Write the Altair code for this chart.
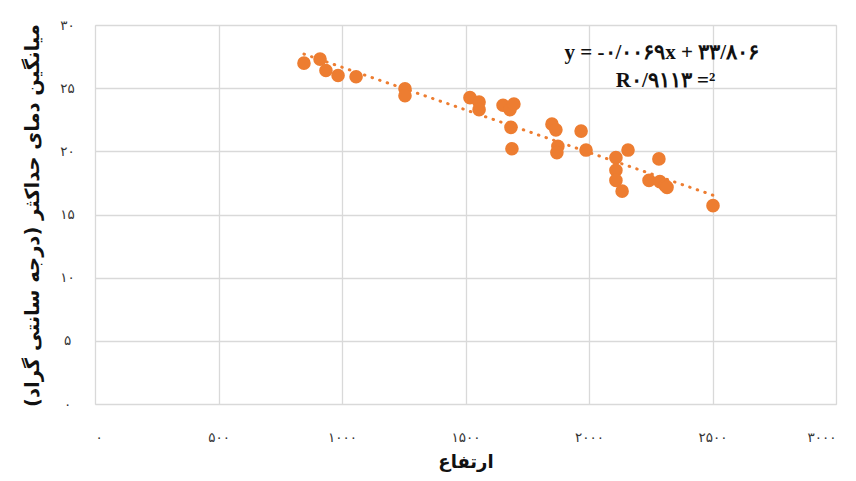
import altair as alt
import pandas as pd

# Data
elevation = [846, 911, 935, 984, 1057, 1255, 1255, 1518, 1555, 1555, 1652, 1680, 1696,
             1684, 1688, 1850, 1866, 1874, 1870, 1968, 1988, 2109, 2109, 2109, 2134,
             2158, 2243, 2283, 2287, 2308, 2316, 2502]
tmax = [26.98, 27.3, 26.4, 26.0, 25.9, 24.95, 24.4, 24.25, 23.9, 23.3, 23.65, 23.3, 23.75,
        21.9, 20.2, 22.15, 21.7, 20.4, 19.9, 21.6, 20.1, 19.5, 18.5, 17.7, 16.85,
        20.1, 17.7, 19.4, 17.6, 17.3, 17.15, 15.7]

x_ticks = [0, 500, 1000, 1500, 2000, 2500, 3000]
y_ticks = [0, 5, 10, 15, 20, 25, 30]

eq_lines = ["y = -۰/۰۰۶۹x + ۳۳/۸۰۶", "R۰/۹۱۱۳ =²"]
eq_x = [2295, 2310]
eq_y = [27.8, 25.6]

x_title = "ارتفاع"
y_title = "میانگین دمای حداکثر (درجه سانتی گراد)"

FA = str.maketrans("0123456789", "۰۱۲۳۴۵۶۷۸۹")


def label_expr(ticks):
    expr = "''"
    for t in reversed(ticks):
        expr = f"datum.value == {t} ? '{str(t).translate(FA)}' : " + expr
    return expr


df = pd.DataFrame({"x": elevation, "y": tmax})
eq_df = pd.DataFrame({"x": eq_x, "y": eq_y, "t": eq_lines})

orange = "#ED7D31"
FONT = "DejaVu Sans"

xscale = alt.Scale(domain=[0, 3000], nice=False, zero=False)
yscale = alt.Scale(domain=[0, 30], nice=False)

xaxis = alt.Axis(values=x_ticks, labelExpr=label_expr(x_ticks), title=x_title,
                 grid=True, gridColor="#d9d9d9", gridWidth=1.3, ticks=False,
                 domain=False, labelPadding=26, labelFontSize=13.5, labelColor="#333333",
                 labelFont=FONT, titleFont=FONT, titleFontSize=18, titleFontWeight="bold",
                 titlePadding=10, titleColor="#111111")
yaxis = alt.Axis(values=y_ticks, labelExpr=label_expr(y_ticks), title=y_title,
                 grid=True, gridColor="#d9d9d9", gridWidth=1.3, ticks=False,
                 domain=False, labelPadding=28, labelFontSize=13.5, labelColor="#333333",
                 labelAlign="center", labelFont=FONT, titleFont=FONT, titleFontSize=19.5,
                 titleFontWeight="bold", titleColor="#111111", titleX=-63, titleY=190,
                 titleAngle=-90, titleBaseline="middle", titleAlign="center")

points = alt.Chart(df).mark_circle(size=185, color=orange, opacity=1).encode(
    x=alt.X("x:Q", scale=xscale, axis=xaxis),
    y=alt.Y("y:Q", scale=yscale, axis=yaxis),
)

trend = alt.Chart(df).transform_regression("x", "y", method="linear").mark_line(
    color=orange, strokeWidth=3, strokeDash=[0.5, 7.5], strokeCap="round"
).encode(x=alt.X("x:Q", scale=xscale), y=alt.Y("y:Q", scale=yscale))

eq = alt.Chart(eq_df).mark_text(font="Liberation Serif", fontSize=21, fontWeight="bold",
                                color="#111111").encode(
    x=alt.X("x:Q", scale=xscale), y=alt.Y("y:Q", scale=yscale), text="t:N")

chart = alt.layer(trend, points, eq).properties(
    width=741, height=379,
    autosize=alt.AutoSizeParams(type="none"),
    padding={"left": 87, "top": 17, "right": 8, "bottom": 68},
).configure_view(stroke="#d9d9d9", strokeWidth=1.3).configure(background="white")

chart.save("out.html", embed_options={"renderer": "svg", "actions": False})
